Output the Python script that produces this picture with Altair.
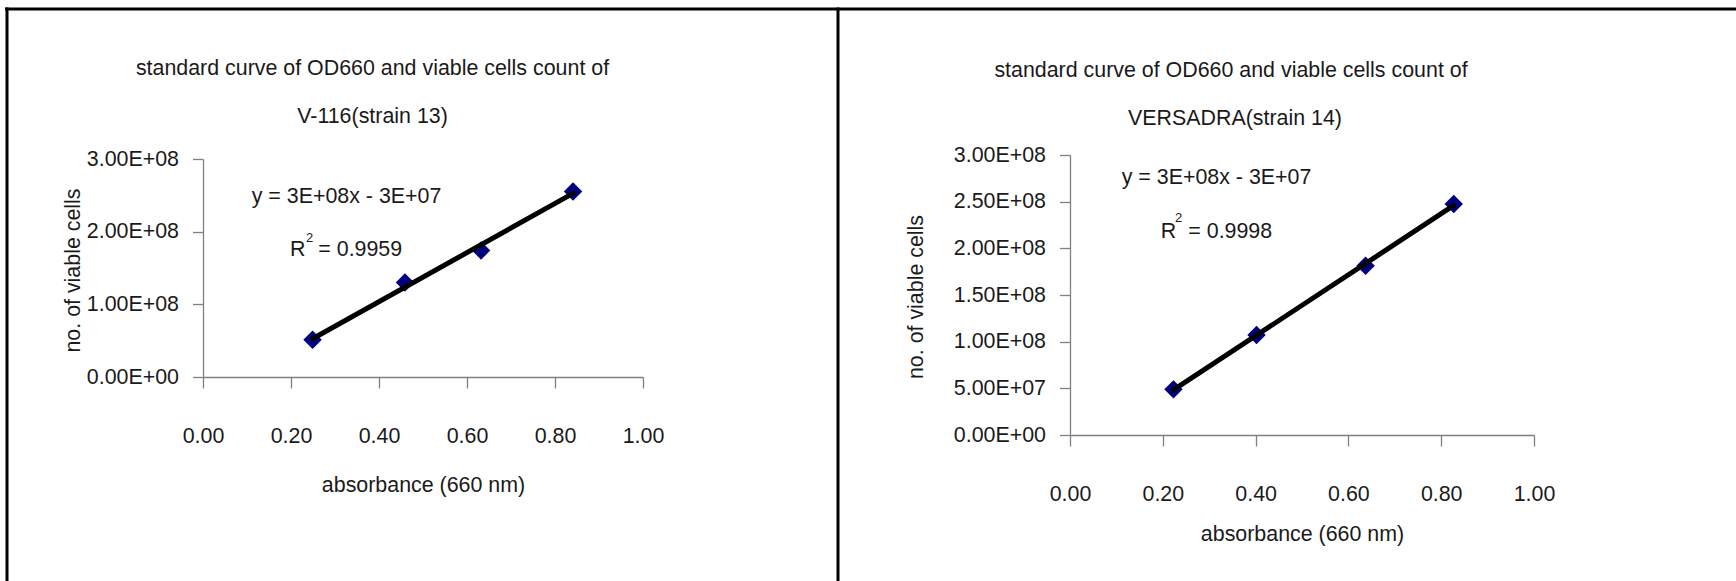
import altair as alt
import pandas as pd

# ---------------- data ----------------
left_od = [0.249, 0.459, 0.632, 0.841]
left_cells = [5.13e7, 1.30e8, 1.742e8, 2.554e8]

right_od = [0.223, 0.402, 0.637, 0.827]
right_cells = [4.89e7, 1.071e8, 1.814e8, 2.475e8]

x_ticks = [0.0, 0.2, 0.4, 0.6, 0.8, 1.0]
left_y_ticks = [0, 1e8, 2e8, 3e8]
right_y_ticks = [0, 5e7, 1e8, 1.5e8, 2e8, 2.5e8, 3e8]

title_line1 = "standard curve of OD660 and viable cells count of"
left_title_line2 = "V-116(strain 13)"
right_title_line2 = "VERSADRA(strain 14)"
left_equation = "y = 3E+08x - 3E+07"
right_equation = "y = 3E+08x - 3E+07"
left_r2 = "= 0.9959"
right_r2 = "= 0.9998"
x_title = "absorbance (660 nm)"
y_title = "no. of viable cells"

FONT = "Liberation Sans"
TXT = "#1a1a1a"
AXC = "#808080"
FS = 21.4

one = pd.DataFrame({"k": [0]})


def txt(s, x, y, align="left", size=FS):
    return alt.Chart(one).mark_text(
        align=align, baseline="alphabetic", font=FONT, fontSize=size, color=TXT
    ).encode(x=alt.value(x), y=alt.value(y), text=alt.value(s))


def hrule(x1, x2, y):
    return alt.Chart(one).mark_rule(color="black", strokeWidth=3).encode(
        x=alt.value(x1), x2=alt.value(x2), y=alt.value(y)
    )


def vrule(x, y1, y2):
    return alt.Chart(one).mark_rule(color="black", strokeWidth=3).encode(
        x=alt.value(x), y=alt.value(y1), y2=alt.value(y2)
    )


def panel(od, cells, yticks, width, height, yscale, line2, tpos, eq, r2, epos,
          ytitle_pos, xtitle_y, borders):
    df = pd.DataFrame({"od": od, "cells": cells})
    base = alt.Chart(df).encode(
        x=alt.X(
            "od:Q",
            scale=alt.Scale(domain=[0, 1], nice=False, zero=False),
            axis=alt.Axis(
                values=x_ticks, format=".2f", title=x_title, grid=False,
                tickSize=11, labelPadding=54, labelBaseline="alphabetic",
                labelFont=FONT, labelFontSize=FS, labelColor=TXT,
                labelFlush=False, labelOverlap=False,
                titleFont=FONT, titleFontSize=FS, titleFontWeight="normal",
                titleColor=TXT, titleY=xtitle_y, titleBaseline="alphabetic",
                domainColor=AXC, tickColor=AXC, domainWidth=1.3, tickWidth=1.3,
            ),
        ),
        y=alt.Y(
            "cells:Q",
            scale=yscale,
            axis=alt.Axis(
                values=yticks,
                labelExpr="replace(format(datum.value, '.2e'), 'e+', 'E+0')",
                title=y_title, grid=False,
                tickSize=10.5, labelPadding=14,
                labelFont=FONT, labelFontSize=FS, labelColor=TXT,
                labelFlush=False, labelOverlap=False,
                titleFont=FONT, titleFontSize=FS, titleFontWeight="normal",
                titleColor=TXT, titleAngle=270, titleAlign="center",
                titleBaseline="middle", titleX=ytitle_pos[0], titleY=ytitle_pos[1],
                domainColor=AXC, tickColor=AXC, domainWidth=1.3, tickWidth=1.3,
            ),
        ),
    )
    pts = base.mark_point(shape="diamond", filled=True, size=340,
                          color="#000080", opacity=1)
    fit = base.transform_regression("od", "cells").mark_line(
        color="black", strokeWidth=5, strokeCap="round"
    )
    layers = [pts, fit,
              txt(title_line1, tpos[0], tpos[1], align="center"),
              txt(line2, tpos[2], tpos[3], align="center"),
              txt(eq, epos[0], epos[1]),
              txt("R", epos[2], epos[3]),
              txt("2", epos[4], epos[5], size=13),
              txt(r2, epos[6], epos[3])]
    layers += borders
    return alt.layer(*layers).properties(width=width, height=height)


left = panel(
    left_od, left_cells, left_y_ticks, 440, 222,
    alt.Scale(domain=[0, 3e8], nice=False, range=[222, 4]),
    left_title_line2, (169.5, -80, 169.5, -32.5),
    left_equation, left_r2, (48.7, 48.3, 87, 101, 103, 87, 115.3),
    (-129.7, 115), 114.5,
    [hrule(-198, 1545, -146), vrule(-196, -147.5, 440), vrule(635, -147.5, 440)],
)

right = panel(
    right_od, right_cells, right_y_ticks, 464, 280,
    alt.Scale(domain=[0, 3e8], nice=False),
    right_title_line2, (161, -78.5, 165, -30.5),
    right_equation, right_r2, (51.7, 29.3, 90.7, 83.3, 105, 66.7, 118.3),
    (-153.3, 141.5), 105.5,
    [],
)

chart = alt.hconcat(left, right, spacing=427, bounds="flush").properties(
    padding={"left": 203, "top": 155, "right": 1533, "bottom": 426},
    autosize=alt.AutoSizeParams(type="none"),
).configure_view(strokeWidth=0)

chart.save("out.html", embed_options={"renderer": "svg", "actions": False})
